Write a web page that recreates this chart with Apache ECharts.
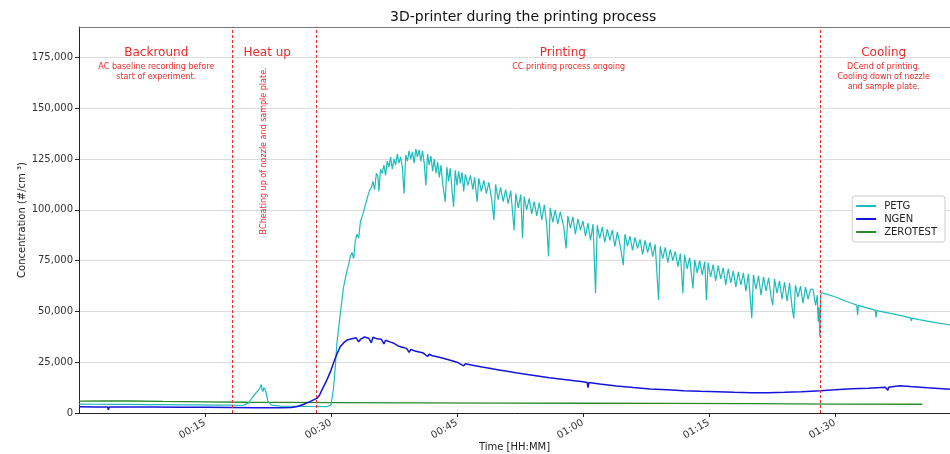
<!DOCTYPE html>
<html>
<head>
<meta charset="utf-8">
<script src="https://cdn.jsdelivr.net/npm/echarts@6/dist/echarts.min.js"></script>
<style>html,body{margin:0;padding:0;background:#fff}#c{width:950px;height:454px}</style>
</head>
<body>
<div id="c"></div>
<script>
// time in minutes, concentration in #/cm3
const seriesNames = ['PETG', 'NGEN', 'ZEROTEST'];
const phaseBounds = [18.2, 28.3, 88.3];
const xTickInterval = 15;

const petg = [[0,4400],[2,4300],[4,4200],[6,4200],[8,4100],[10,4100],[12,4000],[14,4000],[16,3900],[18,3900],[19.5,3700],[20.2,5000],[20.7,8000],[21.2,10500],[21.5,12000],[21.7,14000],[21.8,11500],[21.9,10500],[22.0,12500],[22.2,11300],[22.5,5600],[22.9,3900],[24,3400],[26,3300],[28,3200],[29.5,3100],[30.0,4000],[30.3,12000],[30.5,22000],[30.7,34000],[31.0,45000],[31.2,52000],[31.5,62000],[31.7,66000],[31.9,70000],[32.1,73000],[32.3,77000],[32.5,79000],[32.7,76000],[32.9,85000],[33.1,88000],[33.3,86000],[33.5,94000],[33.8,98000],[34.0,101000],[34.2,104000],[34.4,107000],[34.6,109700],[34.8,111000],[35.0,114000],[35.2,110000],[35.4,118000],[35.6,116000],[35.7,109000],[35.9,120000],[36.1,118000],[36.3,122000],[36.5,117000],[36.7,124000],[36.9,121000],[37.1,126000],[37.3,120000],[37.5,125000],[37.7,122000],[37.9,127500],[38.1,123000],[38.3,126000],[38.5,121000],[38.7,108000],[38.9,127000],[39.1,124000],[39.3,129000],[39.5,125000],[39.7,128500],[39.9,123000],[40.1,130000],[40.3,126000],[40.5,129500],[40.7,124000],[40.9,129000],[41.1,123000],[41.3,112000],[41.5,127500],[41.7,122000],[41.9,126500],[42.1,119000],[42.3,125000],[42.5,118000],[42.7,123500],[42.9,116000],[43.1,122000],[43.3,113000],[43.6,104000],[43.8,121000],[44.0,114000],[44.2,120500],[44.4,110000],[44.6,101500],[44.8,119500],[45.0,112000],[45.2,119000],[45.4,113000],[45.6,118500],[45.8,109000],[46.0,117500],[46.3,112000],[46.6,117000],[46.9,110000],[47.1,116000],[47.4,104000],[47.6,115500],[47.9,109000],[48.2,114500],[48.5,108000],[48.8,113500],[49.1,106000],[49.4,95000],[49.6,112500],[49.9,105000],[50.2,111000],[50.5,104000],[50.8,110000],[51.1,103000],[51.4,109500],[51.8,90000],[52.0,108000],[52.3,101000],[52.6,107500],[52.8,86000],[53.0,106500],[53.3,100000],[53.6,105500],[53.9,98000],[54.2,104000],[54.5,97000],[54.8,103500],[55.1,95000],[55.4,102500],[55.7,92000],[55.9,77000],[56.1,101000],[56.4,94000],[56.7,100000],[57.0,93000],[57.3,99000],[57.7,92000],[58.0,81000],[58.2,97000],[58.5,91000],[58.8,96500],[59.1,88000],[59.4,95500],[59.7,90000],[60.0,94500],[60.3,87000],[60.6,93500],[60.9,85000],[61.2,93000],[61.5,58900],[61.7,92500],[62.0,86000],[62.3,91500],[62.6,84000],[62.9,90500],[63.2,85000],[63.5,90000],[63.8,82000],[64.1,89000],[64.4,83000],[64.8,72800],[65.0,88000],[65.3,82000],[65.6,87000],[65.9,80000],[66.2,86500],[66.5,81000],[66.8,85500],[67.1,78000],[67.4,85000],[67.7,79000],[68.0,84000],[68.3,77000],[68.6,83000],[69.0,55600],[69.2,82000],[69.5,76000],[69.8,81500],[70.1,74000],[70.4,80500],[70.7,75000],[71.0,79500],[71.3,72000],[71.6,78500],[71.9,58900],[72.1,78000],[72.4,71000],[72.7,76500],[73.1,61300],[73.3,75500],[73.6,69000],[73.9,75000],[74.2,68000],[74.5,74500],[74.7,55600],[74.9,74000],[75.2,67000],[75.5,73000],[75.8,65000],[76.1,72500],[76.4,66000],[76.7,71500],[77.0,63000],[77.3,71000],[77.6,64000],[77.9,70000],[78.2,62000],[78.5,69500],[78.8,63000],[79.1,69000],[79.4,60000],[79.7,68500],[80.1,46600],[80.3,68000],[80.6,61000],[80.9,67500],[81.2,58000],[81.5,67000],[81.8,60000],[82.1,66500],[82.4,57000],[82.6,53100],[82.8,66000],[83.1,59000],[83.4,65000],[83.7,56000],[84.0,64500],[84.3,55000],[84.6,64000],[84.9,52000],[85.1,46600],[85.3,63000],[85.6,57000],[85.9,62500],[86.2,54000],[86.5,62000],[86.8,56000],[87.1,61000],[87.4,60900],[87.7,53000],[87.9,58000],[88.0,45000],[88.1,52000],[88.2,37500],[88.3,58000],[88.4,59200],[89.0,58500],[90,57200],[91,55500],[92,54000],[92.6,53100],[92.7,48200],[92.8,53000],[94,51500],[94.8,50600],[94.9,47100],[95.0,50400],[96.6,49000],[98,47800],[99,46800],[99.1,45200],[99.2,46700],[100,46000],[102,44500],[103.7,43300]];

const ngen = [[0,3100],[2,3000],[3.4,3000],[3.5,1600],[3.6,3000],[6,2900],[9,2900],[12,2800],[15,2800],[18,2700],[21,2600],[24,2600],[25.3,2700],[26,3200],[26.7,4200],[27.5,5600],[28.3,7200],[28.6,8500],[29.0,12000],[29.5,16200],[30.0,21000],[30.3,24600],[30.7,29000],[31.1,32600],[31.5,34500],[31.9,35900],[32.5,36500],[33,37000],[33.3,35000],[33.5,36200],[34,37400],[34.5,36800],[34.8,34500],[35,37300],[35.5,36500],[36,36300],[36.3,34000],[36.5,35800],[37,35000],[37.5,34300],[38,33000],[38.5,32400],[39,31800],[39.3,29800],[39.5,31300],[40,30500],[41,29500],[41.5,27800],[41.7,29000],[42,28300],[43,27300],[44,26200],[45,25000],[45.8,23200],[46,24200],[47,23400],[48,22600],[49,21900],[50,21200],[51,20500],[52,19800],[53,19200],[54,18600],[55,18000],[56,17400],[57,16900],[58,16400],[59,15900],[60,15400],[60.5,15000],[60.6,12500],[60.7,15000],[62,14300],[64,13300],[66,12500],[68,11800],[70,11400],[72,11000],[74,10700],[76,10500],[78,10200],[80,10000],[82,10000],[84,10200],[86,10500],[88.3,11000],[90,11400],[92,11900],[94,12200],[96,12700],[96.3,11200],[96.4,12700],[97.7,13400],[99,13000],[101,12400],[103.7,11700]];

const zerotest = [[0,5800],[3,6000],[6,5900],[10,5700],[15,5500],[20,5300],[25,5200],[30,5100],[40,5000],[50,4900],[60,4800],[70,4700],[80,4600],[90,4400],[100.4,4300]];

// phase annotations: [x (min), y (value), text, rotate]
const phaseTitles = [[9.2,177500,'Backround'],[22.4,177500,'Heat up'],[57.6,177500,'Printing'],[95.8,177500,'Cooling']];
const phaseNotes = [
  [9.2,168000,'AⅭ baseline recording before\nstart of experiment.',0],
  [22.0,129000,'BⅭheating up of nozzle and sample plate.',90],
  [58.3,170500,'CⅭ printing process ongoing',0],
  [95.8,165500,'DⅭend of printing.\nCooling down of nozzle\nand sample plate.',0]
];

const FONT = 'DejaVu Sans';
const RED = '#ee2a2a';
function hhmm(v){const m=Math.round(v);const h=Math.floor(m/60),mm=m%60;return String(h).padStart(2,'0')+':'+String(mm).padStart(2,'0');}

const chart = echarts.init(document.getElementById('c'), null, {renderer:'canvas'});
const option = {
  animation:false,
  backgroundColor:'#fff',
  title:{text:'3D-printer during the printing process',left:385,top:5,textStyle:{fontFamily:FONT,fontSize:14,fontWeight:'normal',color:'#111'}},
  legend:{data:seriesNames,orient:'vertical',right:5,top:196,icon:'rect',itemWidth:20,itemHeight:2,itemGap:3,
    padding:[5,8,5,4],backgroundColor:'#fff',borderColor:'#ccc',borderWidth:1,borderRadius:3,
    textStyle:{fontFamily:FONT,fontSize:10,color:'#222',padding:[0,0,0,3]}},
  grid:{left:79,right:0,top:27,bottom:41,outerBoundsMode:'none',containLabel:false},
  xAxis:[{type:'value',min:0,max:103.7,interval:xTickInterval,
    name:'Time [HH:MM]',nameLocation:'middle',nameGap:29,nameMoveOverlap:false,nameTextStyle:{fontFamily:FONT,fontSize:10,color:'#222'},
    axisLine:{lineStyle:{color:'#222'}},axisTick:{length:4,lineStyle:{color:'#222'}},
    axisLabel:{formatter:hhmm,rotate:30,fontFamily:FONT,fontSize:10,color:'#333',showMinLabel:false,showMaxLabel:false,margin:9},
    splitLine:{show:false}},
    {type:'value',position:'top',min:0,max:103.7,axisLine:{show:true,lineStyle:{color:'#777'}},axisTick:{show:false},axisLabel:{show:false},splitLine:{show:false}}],
  yAxis:{type:'value',min:0,max:190000,interval:25000,
    name:'Concentration (#/cm ³)',nameLocation:'middle',nameGap:52,nameMoveOverlap:false,nameTextStyle:{fontFamily:FONT,fontSize:10,color:'#222'},
    axisLine:{show:true,lineStyle:{color:'#222'}},axisTick:{show:true,length:4,lineStyle:{color:'#222'}},
    axisLabel:{formatter:v=>v.toLocaleString('en-US'),fontFamily:FONT,fontSize:10,color:'#333',showMaxLabel:false,margin:6},
    splitLine:{lineStyle:{color:'#dcdcdc'}}},
  series:[
    {name:'PETG',type:'line',data:petg,symbol:'none',lineStyle:{width:1.2,color:'#1cbcbc'},itemStyle:{color:'#1cbcbc'},z:3},
    {name:'NGEN',type:'line',data:ngen,symbol:'none',lineStyle:{width:1.5,color:'#1414dc'},itemStyle:{color:'#1414dc'},z:4},
    {name:'ZEROTEST',type:'line',data:zerotest,symbol:'none',lineStyle:{width:1.3,color:'#2a8a2a'},itemStyle:{color:'#2a8a2a'},z:2},
    {name:'phases',type:'line',data:[],symbol:'none',silent:true,z:5,
      markLine:{silent:true,symbol:'none',label:{show:false},lineStyle:{color:RED,type:[3,2],width:1},
        data:phaseBounds.map(x=>({xAxis:x}))},
      markPoint:{silent:true,symbol:'circle',symbolSize:0,
        data:phaseTitles.map(p=>({coord:[p[0],p[1]],label:{show:true,position:'inside',formatter:p[2],fontFamily:FONT,fontSize:12,color:RED}}))
          .concat(phaseNotes.map(p=>({coord:[p[0],p[1]],label:{show:true,position:'inside',formatter:p[2],rotate:p[3],fontFamily:FONT,fontSize:8,lineHeight:10,color:RED,align:'center'}})))}
    }
  ]
};
chart.setOption(option);
</script>
</body>
</html>
